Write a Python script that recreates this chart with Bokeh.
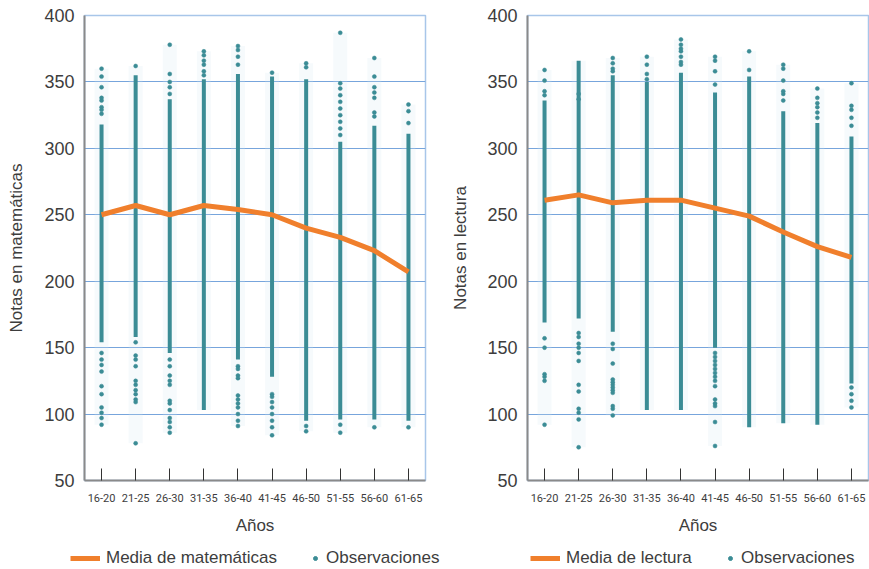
from bokeh.plotting import figure
from bokeh.models import (FactorRange, Range1d, FixedTicker, Legend, LegendItem)
from bokeh.layouts import row, column
from bokeh.embed import file_html
from bokeh.resources import INLINE

# ---------------- data ----------------
age_groups = ["16-20", "21-25", "26-30", "31-35", "36-40",
              "41-45", "46-50", "51-55", "56-60", "61-65"]

math_mean = [250, 257, 250, 257, 254, 250, 240, 233, 223, 207]
read_mean = [261, 265, 259, 261, 261, 255, 249, 237, 226, 218]

# dense core of the observations (low, high) per age group
math_core_lo = [154, 158, 146, 103, 141, 128, 95, 96, 96, 95]
math_core_hi = [318, 355, 337, 352, 356, 354, 352, 305, 317, 311]
read_core_lo = [169, 172, 162, 103, 103, 150, 90, 93, 92, 123]
read_core_hi = [336, 366, 355, 350, 357, 342, 354, 328, 319, 309]

# isolated observations per age group
math_outliers = [
    [326, 329, 331, 336, 338, 346, 354, 360, 146, 141, 137, 132, 121, 115, 105, 101, 97, 92],
    [362, 154, 144, 141, 136, 125, 122, 118, 115, 111, 109, 78],
    [341, 346, 350, 356, 378, 141, 136, 129, 125, 122, 110, 108, 103, 97, 94, 90, 86],
    [355, 358, 363, 366, 370, 373],
    [363, 369, 374, 377, 136, 134, 129, 127, 114, 111, 108, 105, 100, 95, 91],
    [357, 115, 113, 109, 105, 100, 95, 90, 84],
    [361, 364, 91, 87],
    [310, 315, 320, 325, 330, 335, 340, 345, 349, 387, 92, 86],
    [324, 327, 338, 342, 346, 354, 368, 90],
    [319, 328, 333, 90],
]
read_outliers = [
    [340, 343, 351, 359, 157, 150, 130, 128, 125, 92],
    [341, 337, 161, 158, 153, 150, 146, 140, 122, 117, 104, 101, 96, 75],
    [358, 360, 364, 368, 153, 149, 138, 126, 124, 122, 120, 118, 116, 106, 104, 99],
    [352, 356, 363, 369],
    [363, 365, 369, 373, 375, 378, 382],
    [348, 358, 366, 369, 146, 143, 140, 137, 134, 131, 128, 125, 121, 111, 108, 106, 94, 76],
    [359, 373],
    [336, 341, 343, 351, 360, 363],
    [323, 327, 331, 334, 338, 345],
    [317, 323, 329, 332, 349, 120, 115, 110, 105],
]

y_ticks = [50, 100, 150, 200, 250, 300, 350, 400]

TEAL = "#3b8c95"
ORANGE = "#f07f2c"
GRID = "#77a5dc"
TEXT = "#3d3d3d"

PANEL_H = 539
LEGEND_H = 30


def make_panel(ylabel, mean, core_lo, core_hi, outliers,
               border_left, border_right, ylab_standoff):
    p = figure(x_range=FactorRange(*age_groups), y_range=Range1d(50, 400),
               width=border_left + 341 + border_right, height=PANEL_H,
               output_backend="svg", toolbar_location=None,
               min_border_left=border_left, min_border_right=border_right,
               min_border_top=15, min_border_bottom=PANEL_H - 480)
    p.background_fill_color = "white"
    p.border_fill_color = "white"
    p.outline_line_color = "#a8c6e9"
    p.outline_line_width = 1.5

    # grid
    p.xgrid.grid_line_color = None
    p.ygrid.ticker = FixedTicker(ticks=y_ticks)
    p.ygrid.grid_line_color = GRID
    p.ygrid.grid_line_width = 1

    # faint halo around each column
    halo_lo = [min([lo] + o) for lo, o in zip(core_lo, outliers)]
    halo_hi = [max([hi] + o) for hi, o in zip(core_hi, outliers)]
    p.segment(x0=age_groups, y0=halo_lo, x1=age_groups, y1=halo_hi,
              line_color="#d3e8f0", line_alpha=0.2, line_width=14)

    # dense core
    p.segment(x0=age_groups, y0=core_lo, x1=age_groups, y1=core_hi,
              line_color=TEAL, line_width=4)

    # isolated points
    ox, oy = [], []
    for g, vals in zip(age_groups, outliers):
        for v in vals:
            ox.append(g)
            oy.append(v)
    obs = p.scatter(x=ox, y=oy, size=4, marker="circle",
                    fill_color=TEAL, line_color=TEAL, line_alpha=0.5)

    # mean line
    p.line(x=age_groups, y=mean, line_color=ORANGE, line_width=5,
           line_join="round")

    # axes
    p.yaxis.ticker = FixedTicker(ticks=y_ticks)
    p.yaxis.axis_label = ylabel
    p.yaxis.axis_label_text_font = "Liberation Sans"
    p.yaxis.axis_label_text_font_size = "17px"
    p.yaxis.axis_label_text_font_style = "normal"
    p.yaxis.axis_label_text_color = TEXT
    p.yaxis.axis_label_standoff = ylab_standoff
    p.yaxis.major_label_text_font = "Liberation Sans"
    p.yaxis.major_label_text_font_size = "18px"
    p.yaxis.major_label_text_color = TEXT
    p.yaxis.major_label_standoff = 10
    p.yaxis.major_tick_in = 0
    p.yaxis.major_tick_out = 0
    p.yaxis.minor_tick_in = 0
    p.yaxis.minor_tick_out = 0
    p.yaxis.axis_line_color = "#8a8a8a"
    p.yaxis.axis_line_width = 2

    p.xaxis.axis_label = "Años"
    p.xaxis.axis_label_text_font = "Liberation Sans"
    p.xaxis.axis_label_text_font_size = "17px"
    p.xaxis.axis_label_text_font_style = "normal"
    p.xaxis.axis_label_text_color = TEXT
    p.xaxis.axis_label_standoff = 11
    p.xaxis.major_label_text_font = "Roboto"
    p.xaxis.major_label_text_font_size = "11px"
    p.xaxis.major_label_text_color = TEXT
    p.xaxis.major_label_standoff = 13
    p.xaxis.major_tick_in = 12
    p.xaxis.major_tick_out = 0
    p.xaxis.major_tick_line_color = "#333333"
    p.xaxis.axis_line_color = "#8a8a8a"
    p.xaxis.axis_line_width = 2
    return p, (ox, oy)


def make_legend(width, mean, obs_xy, mean_label, line_x, obs_x):
    # the legend lives in its own strip below the panel; the series are
    # attached to it (outside its visible y range) only to supply glyphs
    q = figure(width=width, height=LEGEND_H, output_backend="svg",
               toolbar_location=None, x_range=FactorRange(*age_groups),
               y_range=Range1d(0, 1), min_border=0)
    q.axis.visible = False
    q.grid.visible = False
    q.outline_line_color = None
    q.border_fill_color = "white"
    q.background_fill_color = "white"
    ml = q.line(x=age_groups, y=mean, line_color=ORANGE, line_width=5)
    ob = q.scatter(x=obs_xy[0], y=obs_xy[1], size=5, marker="circle",
                   fill_color=TEAL, line_color=TEAL)
    common = dict(orientation="horizontal", border_line_color=None,
                  background_fill_alpha=0, label_text_font="Liberation Sans",
                  label_text_font_size="17px", label_text_color=TEXT,
                  glyph_height=16, padding=0, margin=0)
    leg_line = Legend(items=[LegendItem(label=mean_label, renderers=[ml])],
                      location=(line_x, 1), glyph_width=30,
                      label_standoff=6, **common)
    leg_obs = Legend(items=[LegendItem(label="Observaciones", renderers=[ob])],
                     location=(obs_x, 1), glyph_width=10,
                     label_standoff=6, **common)
    q.add_layout(leg_line)
    q.add_layout(leg_obs)
    return q


p1, obs1 = make_panel("Notas en matemáticas", math_mean, math_core_lo,
                      math_core_hi, math_outliers, 84, 16, 15)
p2, obs2 = make_panel("Notas en lectura", read_mean, read_core_lo,
                      read_core_hi, read_outliers, 86, 1, 14)
l1 = make_legend(84 + 341 + 16, math_mean, obs1, "Media de matemáticas", 70, 310)
l2 = make_legend(86 + 341 + 1, read_mean, obs2, "Media de lectura", 89, 284)

layout = column(row(p1, p2), row(l1, l2))
open("out.html", "w").write(file_html(layout, INLINE))
